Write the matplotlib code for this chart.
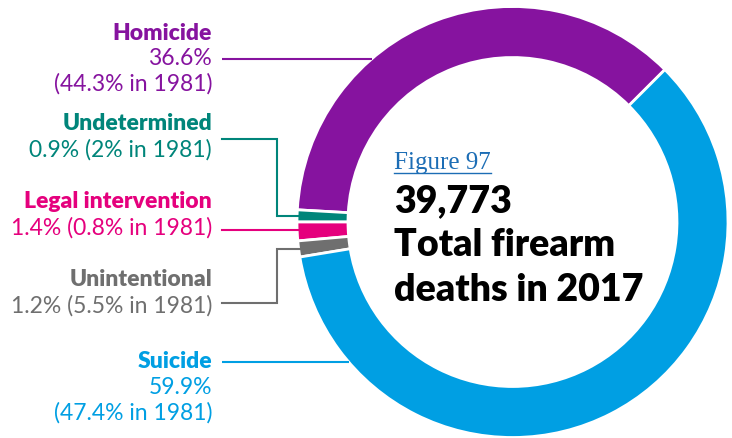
import matplotlib
matplotlib.use("Agg")
import matplotlib.pyplot as plt
import numpy as np

# data
categories = ["Homicide", "Undetermined", "Legal intervention", "Unintentional", "Suicide"]
shares_2017 = [36.6, 0.9, 1.4, 1.2, 59.9]
shares_1981 = [44.3, 2, 0.8, 5.5, 47.4]
colors = ["#86139F", "#00857A", "#E5007D", "#6F6F6F", "#009FE3"]
total_deaths = "39,773"
year = 2017

W, H = 732, 439
cx, cy = 512.5, 223
R = 215.5
ring = 51

fig = plt.figure(figsize=(W / 100, H / 100), dpi=100)
ax = fig.add_axes([0, 0, 1, 1])

ax.pie(shares_2017, colors=colors, startangle=-45, counterclock=False,
       radius=R, center=(cx, cy), frame=False,
       wedgeprops=dict(width=ring, edgecolor="white", linewidth=2))
ax.set_xlim(0, W)
ax.set_ylim(H, 0)
ax.set_aspect("equal")
ax.axis("off")

plt.rcParams['font.family'] = ['Lato', 'DejaVu Sans']

# mid angle of each wedge (data coords, y axis inverted)
cum = np.cumsum([0] + shares_2017)
mids = [-45 - 3.6 * (cum[i] + cum[i + 1]) / 2 for i in range(len(shares_2017))]

label_x = 212
line_x0 = 222
elbow_x = 277
fs = 16.5

def pct(v):
    return ("%.1f" % v).rstrip("0").rstrip(".") if v == int(v) else "%.1f" % v

# text rows: (title y, list of text lines below, leader y)
layout = {
    "Homicide": (33, ["%s%%" % pct(shares_2017[0]), "(%s%% in 1981)" % pct(shares_1981[0])], 60),
    "Undetermined": (124, ["%s%% (%s%% in 1981)" % (pct(shares_2017[1]), pct(shares_1981[1]))], 140),
    "Legal intervention": (202, ["%s%% (%s%% in 1981)" % (pct(shares_2017[2]), pct(shares_1981[2]))], 231),
    "Unintentional": (280, ["%s%% (%s%% in 1981)" % (pct(shares_2017[3]), pct(shares_1981[3]))], 304),
    "Suicide": (362, ["%s%%" % pct(shares_2017[4]), "(%s%% in 1981)" % pct(shares_1981[4])], 363),
}
step = 25.5

for i, name in enumerate(categories):
    ty, rest, ly = layout[name]
    col = colors[i]
    ax.text(label_x, ty, name, ha="right", va="center", fontsize=fs,
            fontweight="heavy", color=col)
    for k, s in enumerate(rest):
        ax.text(label_x, ty + step * (k + 1), s, ha="right", va="center",
                fontsize=fs, color=col)
    if name in ("Homicide", "Suicide"):
        xe = cx - np.sqrt(R ** 2 - (cy - ly) ** 2)
        ax.plot([line_x0, xe], [ly, ly], color=col, lw=1.5, solid_capstyle="butt")
    else:
        a = np.radians(mids[i])
        wy = cy + (R - 1) * np.sin(a)
        wx = cx + (R - 1) * np.cos(a)
        if abs(wy - ly) < 3:
            ax.plot([line_x0, wx], [ly, ly], color=col, lw=1.5)
        else:
            ax.plot([line_x0, elbow_x, elbow_x, wx], [ly, ly, wy, wy], color=col,
                    lw=1.5, solid_joinstyle="miter")

# centre text
tx = 394
fig_t = ax.text(tx, 163, "Figure 97", ha="left", va="center", fontsize=18,
                family="Liberation Serif", color="#1C6DB5")
ax.text(tx, 201, total_deaths, ha="left", va="center", fontsize=27,
        fontweight="heavy", color="black")
ax.text(tx, 245, "Total firearm", ha="left", va="center", fontsize=27,
        fontweight="heavy", color="black")
ax.text(tx, 290, "deaths in %d" % year, ha="left", va="center", fontsize=27,
        fontweight="heavy", color="black")

fig.canvas.draw()
bb = fig_t.get_window_extent().transformed(ax.transData.inverted())
x0, x1 = min(bb.x0, bb.x1), max(bb.x0, bb.x1)
ax.plot([x0, x1], [174, 174], color="#1C6DB5", lw=1)

fig.savefig("out.png", dpi=100)
